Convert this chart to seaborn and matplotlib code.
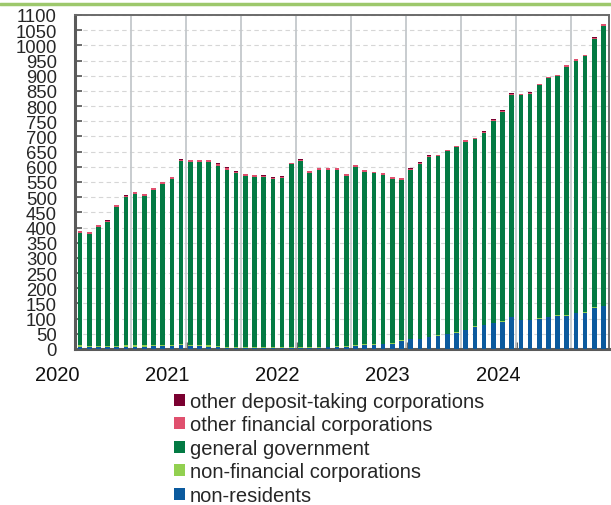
import numpy as np
import pandas as pd
import seaborn as sns
import matplotlib
matplotlib.use("Agg")
import matplotlib.pyplot as plt
from matplotlib.patches import Patch
from matplotlib.lines import Line2D
from matplotlib.transforms import blended_transform_factory

# monthly observations, Jan 2020 - Oct 2024
months = pd.date_range("2020-01", periods=58, freq="MS").strftime("%Y-%m").tolist()
years = ["2020", "2021", "2022", "2023", "2024"]

non_residents = [8, 7, 7, 6, 6, 8, 8, 8, 9, 9, 10, 13, 10, 9, 8, 7, 4,
                 2, 2, 2, 2, 2, 2, 2, 2, 2, 3, 5,
                 8, 8, 10, 12, 13, 15, 18, 27, 32, 32, 38, 44, 48, 54, 61,
                 73, 78, 84, 90, 105, 94, 94, 100, 104, 109, 110, 117, 120,
                 135, 140]
non_financial = [4] * 17 + [3] * 19 + [2] * 22
general_gov = [370, 368, 391, 407, 457, 487, 498, 492, 510, 530, 546, 601,
               601, 604, 605, 593, 583, 574, 565, 562, 561, 554, 558, 603,
               614, 576, 585, 583, 580, 560, 588, 569, 562, 556, 540, 527,
               556, 576, 593, 589, 601, 608, 620, 615, 632, 665, 689, 730,
               740, 744, 767, 785, 788, 818, 831, 842, 884, 923]
other_financial = [6] * 17 + [5] * 19 + [4] * 22
other_deposit = [1] * 58

layers = [
    ("non-residents", non_residents, "#0B5A9E"),
    ("non-financial corporations", non_financial, "#92D050"),
    ("general government", general_gov, "#037A43"),
    ("other financial corporations", other_financial, "#E0506E"),
    ("other deposit-taking corporations", other_deposit, "#7A0030"),
]

sns.set_style("white")
plt.rcParams["font.family"] = ["Liberation Sans", "DejaVu Sans"]

fig = plt.figure(figsize=(6.11, 5.06), dpi=100)
ax = fig.add_axes([75 / 611, 156 / 506, 534 / 611, 334 / 506])

bottom = np.zeros(len(months))
for name, vals, color in layers:
    sns.barplot(x=months, y=vals, bottom=bottom, color=color, width=0.5,
                saturation=1, errorbar=None, linewidth=0, ax=ax, zorder=3)
    bottom = bottom + np.array(vals)

ax.set_xlim(-0.55, 57.6)
ax.set_ylim(0, 1100)
ax.set_yticks(range(0, 1101, 50))
ax.set_xlabel("")
ax.set_ylabel("")

# grid
ax.set_axisbelow(True)
ax.yaxis.grid(True, linestyle=(0, (4, 3)), color="#d6d6d6", lw=0.8)
ax.xaxis.grid(False)
for xv in np.arange(5.5, 57, 6):
    ax.axvline(xv, color="#c4c8cc", lw=1.3, zorder=1)

# ticks
ax.set_xticks([])
ax.set_xticks([11.5, 23.5, 35.5, 47.5], minor=True)
ax.tick_params(axis="x", which="minor", direction="in", length=5, width=2,
               color="#555555", bottom=True)
ax.tick_params(axis="y", direction="in", length=5, width=1.2, color="#555555",
               labelsize=13.3, pad=13, left=True)

trans = blended_transform_factory(ax.transData, ax.transAxes)
for k, yr in enumerate(years):
    ax.text(12 * k - 2.5, -0.075, yr, transform=trans, ha="center",
            va="center", fontsize=14.5, color="#111111")

for side in ["left", "bottom"]:
    ax.spines[side].set_color("#5a5a5a")
    ax.spines[side].set_linewidth(2.2)
for side in ["top", "right"]:
    ax.spines[side].set_color("#6a6a6a")
    ax.spines[side].set_linewidth(1.4)

# legend
handles = [Patch(facecolor=c, edgecolor="none", label=n) for n, _, c in reversed(layers)]
fig.legend(handles=handles, loc="upper left", bbox_to_anchor=(174 / 611, 1 - 393 / 506),
           frameon=False, fontsize=14.5, handlelength=0.55, handleheight=0.55,
           handletextpad=0.25, labelspacing=0.22, borderpad=0, borderaxespad=0)

# top accent line
fig.add_artist(Line2D([0, 1], [1 - 5 / 506, 1 - 5 / 506], transform=fig.transFigure,
                      color="#9DC86C", lw=2.5))

fig.savefig("out.png", dpi=100)
